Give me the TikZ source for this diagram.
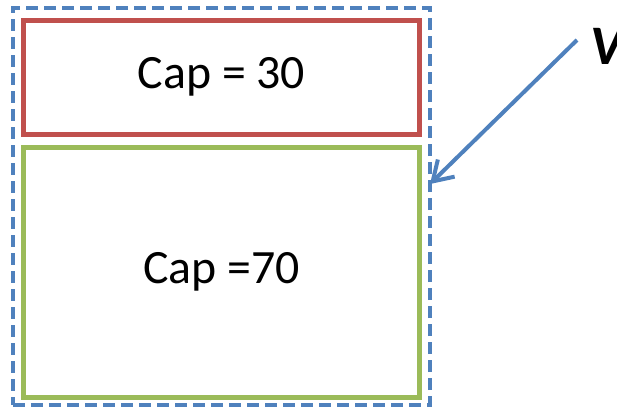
\documentclass[tikz,border=0pt]{standalone}
\usepackage{fontspec}
\setmainfont{Carlito}
\usetikzlibrary{arrows.meta}
\definecolor{offred}{HTML}{C0504D}
\definecolor{offgreen}{HTML}{9BBB59}
\definecolor{offblue}{HTML}{4F81BD}
\begin{document}
\begin{tikzpicture}[x=1bp,y=-1bp,
  capbox/.style={draw, line width=5bp, rectangle, inner sep=0pt, font=\fontsize{48}{58}\selectfont},
  outerbox/.style={draw=offblue, line width=4bp, dash pattern=on 12bp off 6bp, rectangle, inner sep=0pt}]
\useasboundingbox (0,0) rectangle (617,408);
\node[outerbox, minimum width=417bp, minimum height=397bp] (outer) at (221.5,206.5) {};
\node[capbox, draw=offred, minimum width=395bp, minimum height=114bp] (top) at (221.5,77) {Cap = 30};
\node[capbox, draw=offgreen, minimum width=395bp, minimum height=250bp] (bottom) at (221.5,272) {Cap =70};
\node[font=\fontsize{56}{66}\selectfont\bfseries\itshape, anchor=west, inner sep=0pt] (v) at (590,46) {V};
\coordinate (start) at (577,40);
\coordinate (tip) at (430,184);
\draw[offblue, line width=4bp, -{Straight Barb[length=19bp, width=24bp]}] (start) -- (tip);
\end{tikzpicture}
\end{document}
